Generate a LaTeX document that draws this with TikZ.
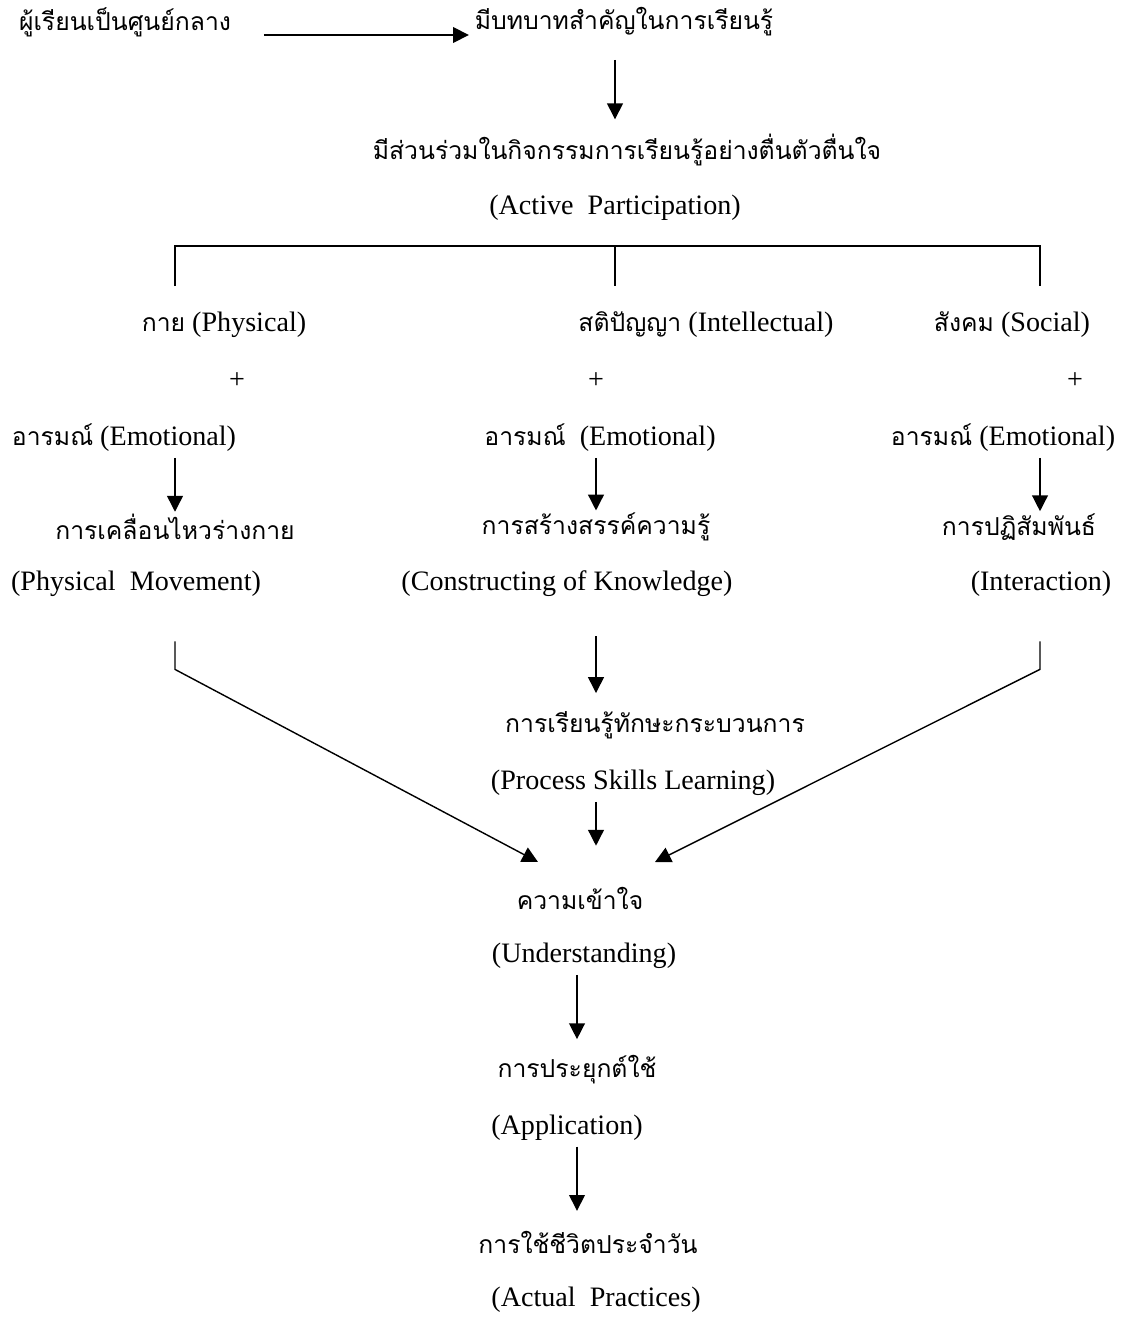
\documentclass[tikz,border=0pt]{standalone}
\usepackage{fontspec}
\setmainfont{Liberation Serif}
\newfontfamily\thaifont[Script=Thai,Scale=0.88]{Loma}
\newcommand{\tht}[1]{{\thaifont #1}}
\usepackage{tikz}
\usetikzlibrary{arrows.meta,positioning}

\begin{document}
\begin{tikzpicture}[x=0.02cm,y=-0.02cm,thick,
  >={Triangle[length=9pt,width=9pt]},
  txt/.style={inner sep=1pt,font=\fontsize{16}{19}\selectfont},
  arr/.style={->,shorten <=2pt,shorten >=2pt}]
  \useasboundingbox (0,0) rectangle (1126,1318);

  % Nodos: parte superior
  \node[txt] (cent) at (125,22)  {\tht{ผู้เรียนเป็นศูนย์กลาง}};
  \node[txt] (role) at (624,22)  {\tht{มีบทบาทสำคัญในการเรียนรู้}};
  \node[txt] (partTh) at (627,150) {\tht{มีส่วนร่วมในกิจกรรมการเรียนรู้อย่างตื่นตัวตื่นใจ}};
  \node[txt] (partEn) at (615,208) {(Active\ \ Participation)};

  % Tres ramas
  \node[txt] (phys)  at (224,325)  {\tht{กาย} (Physical)};
  \node[txt] (intel) at (706,325)  {\tht{สติปัญญา} (Intellectual)};
  \node[txt] (soc)   at (1012,325) {\tht{สังคม} (Social)};
  \node[txt] (plusL) at (237,381)  {+};
  \node[txt] (plusM) at (596,381)  {+};
  \node[txt] (plusR) at (1075,381) {+};
  \node[txt] (emoL) at (124,438)  {\tht{อารมณ์} (Emotional)};
  \node[txt] (emoM) at (600,438)  {\tht{อารมณ์}\ \ (Emotional)};
  \node[txt] (emoR) at (1003,438) {\tht{อารมณ์} (Emotional)};

  \node[txt] (moveTh) at (175,527)  {\tht{การเคลื่อนไหวร่างกาย}};
  \node[txt] (consTh) at (596,527)  {\tht{การสร้างสรรค์ความรู้}};
  \node[txt] (interTh) at (1019,527) {\tht{การปฏิสัมพันธ์}};
  \node[txt] (moveEn) at (136,584)  {(Physical\ \ Movement)};
  \node[txt] (consEn) at (567,584)  {(Constructing of Knowledge)};
  \node[txt] (interEn) at (1041,584) {(Interaction)};

  % Centro y parte inferior
  \node[txt] (procTh) at (655,725)  {\tht{การเรียนรู้ทักษะกระบวนการ}};
  \node[txt] (procEn) at (633,783)  {(Process Skills Learning)};
  \node[txt] (undTh)  at (580,898)  {\tht{ความเข้าใจ}};
  \node[txt] (undEn)  at (584,956)  {(Understanding)};
  \node[txt] (appTh)  at (577,1070) {\tht{การประยุกต์ใช้}};
  \node[txt] (appEn)  at (567,1128) {(Application)};
  \node[txt] (lifeTh) at (588,1242) {\tht{การใช้ชีวิตประจำวัน}};
  \node[txt] (lifeEn) at (596,1300) {(Actual\ \ Practices)};

  % Corchete
  \coordinate (brL) at (175,246);
  \coordinate (brM) at (615,246);
  \coordinate (brR) at (1040,246);
  \coordinate (legL) at (175,286);
  \coordinate (legM) at (615,286);
  \coordinate (legR) at (1040,286);
  \draw (legL) -- (brL) -- (brR) -- (legR);
  \draw (brM) -- (legM);

  % Flechas
  \draw[arr] (cent.east) ++(27,13) coordinate (hs) -- (hs -| role.west);
  \draw[arr,shorten <=12pt,shorten >=7pt] (role.south -| partEn) -- (partTh.north -| partEn);
  \draw[arr,shorten >=0pt] (emoL.south -| moveTh) -- (moveTh.north);
  \draw[arr,shorten >=0pt] (emoM.south -| consTh) -- (consTh.north);
  \draw[arr,shorten >=0pt] (emoR.south -| legR) -- (interTh.north -| legR);
  \draw[arr,shorten <=21pt,shorten >=9pt] (consEn.south -| consTh) -- (procTh.north -| consTh);
  \draw[arr,shorten >=22pt] (procEn.south -| consTh) -- (undTh.north -| consTh);
  \draw[arr,shorten >=8pt] (undEn.south -| appTh) -- (appTh.north);
  \draw[arr,shorten >=10pt] (appEn.south -| appTh) -- (lifeTh.north -| appTh);

  % Convergencia hacia la comprension
  \coordinate (inL) at (538,862);
  \coordinate (inR) at (655,862);
  \draw[->] ([yshift=-24pt]moveEn.south -| legL) -- ++(0,28) -- (inL);
  \draw[->] ([yshift=-24pt]interEn.south -| legR) -- ++(0,28) -- (inR);
\end{tikzpicture}
\end{document}
